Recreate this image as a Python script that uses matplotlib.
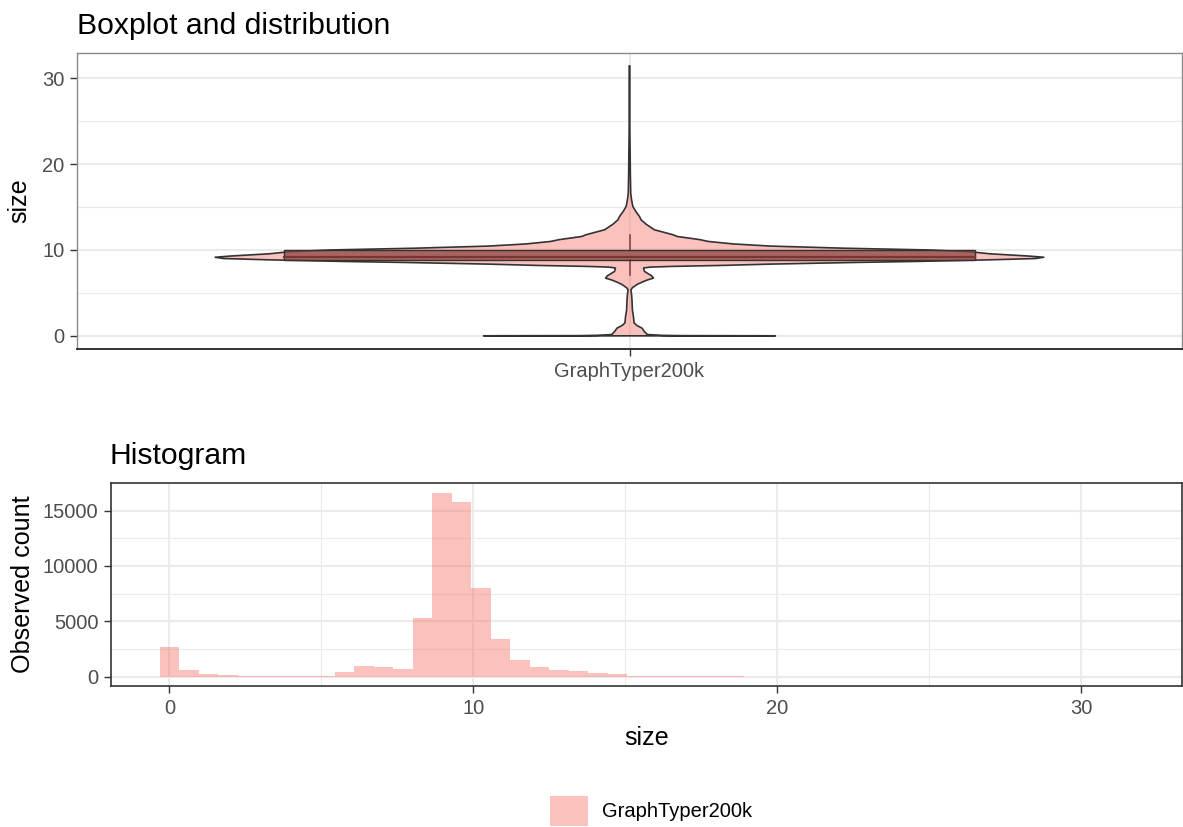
import numpy as np
import matplotlib
matplotlib.use("Agg")
import matplotlib.pyplot as plt
from matplotlib.patches import Patch, Rectangle

plt.rcParams['font.family'] = ['Liberation Sans', 'DejaVu Sans']

# ---------------- data ----------------
category = "GraphTyper200k"

# violin profile: size values and relative density (max = 1)
violin_y = [31.4, 28.0, 25.0, 21.5, 19.0, 17.8, 16.6, 15.85, 15.07, 14.5, 13.9, 13.5,
            13.0, 12.35, 11.77, 11.57, 11.2, 10.99, 10.7, 10.45, 10.2, 10.0, 9.8,
            9.55, 9.3, 9.15, 9.0, 8.85, 8.66, 8.54, 8.35, 8.2, 8.08, 8.0, 7.9, 7.5,
            7.0, 6.72, 6.5, 6.33, 6.0, 5.6, 5.36, 4.8, 4.2, 3.0, 2.25, 1.5, 1.2,
            0.9, 0.5, 0.15, 0.05, 0.02, 0.01, 0.0]
violin_dens = [0.0, 0.0, 0.0005, 0.0015, 0.002, 0.0025, 0.003, 0.005, 0.008, 0.015,
               0.024, 0.028, 0.04, 0.06, 0.105, 0.115, 0.17, 0.19, 0.25, 0.34, 0.52,
               0.72, 0.82, 0.87, 0.96, 1.0, 0.98, 0.87, 0.69, 0.54, 0.34, 0.225, 0.1,
               0.05, 0.034, 0.036, 0.053, 0.058, 0.043, 0.034, 0.019, 0.007, 0.0035,
               0.005, 0.006, 0.007, 0.0095, 0.011, 0.018, 0.030, 0.036, 0.043, 0.08,
               0.12, 0.28, 0.352]

# boxplot statistics
box_q1, box_median, box_q3 = 8.86, 9.2, 10.02
whisker_low, whisker_high = 7.1, 11.77

# histogram (50 bins over 0..31.4)
hist_max = 31.4
hist_counts = [2690, 635, 245, 150, 60, 40, 30, 30, 40, 420,
               960, 880, 725, 5310, 16630, 15810, 8030, 3410, 1540, 880,
               600, 510, 330, 215, 100, 60, 50, 45, 40, 35,
               10, 6, 5, 4, 3, 3, 2, 2, 2, 1,
               1, 1, 1, 1, 1, 1, 1, 1, 1, 1]

# ---------------- style ----------------
salmon = '#F8766D'
grid_c = '#EBEBEB'
dark = '#333333'
tick_c = '#4D4D4D'
TICK = 14.5
AXT = 18.1
TITLE = 21.7

W, H = 1183, 827
fig = plt.figure(figsize=(W / 100, H / 100), dpi=100)

def px_axes(l, t, r, b):
    return fig.add_axes([l / W, 1 - b / H, (r - l) / W, (b - t) / H])

# ---------------- top panel ----------------
ax1 = px_axes(77, 52.7, 1182, 349.3)
ax1.set_xlim(0.4, 1.6)
ax1.set_ylim(-1.57, 32.97)
ax1.set_yticks([0, 10, 20, 30])
ax1.set_yticks([5, 15, 25], minor=True)
ax1.set_xticks([1])
ax1.set_xticklabels([category])
for v in [0, 10, 20, 30]:
    ax1.axhline(v, color=grid_c, lw=1.5, zorder=0)
for v in [5, 15, 25]:
    ax1.axhline(v, color=grid_c, lw=0.8, zorder=0)
ax1.axvline(1, color=grid_c, lw=1.5, zorder=0)

vy = np.array(violin_y)
hw = np.array(violin_dens) * 0.45
ax1.fill_betweenx(vy, 1 - hw, 1 + hw, facecolor=salmon, alpha=0.45, lw=0, zorder=2)
ax1.plot(np.concatenate([1 - hw, (1 + hw)[::-1], [1 - hw[0]]]),
         np.concatenate([vy, vy[::-1], [vy[0]]]), color=dark, lw=1.2, zorder=3)

bw = 0.375
ax1.add_patch(Rectangle((1 - bw, box_q1), 2 * bw, box_q3 - box_q1,
                        facecolor='#8B4543', alpha=0.75, edgecolor='none', zorder=4))
ax1.add_patch(Rectangle((1 - bw, box_q1), 2 * bw, box_q3 - box_q1,
                        facecolor='none', edgecolor=dark, lw=1.0, zorder=5))
ax1.plot([1 - bw, 1 + bw], [box_median, box_median], color='#7A3533', lw=1.6, zorder=5)
ax1.plot([1, 1], [box_q3, whisker_high], color='#8B4543', lw=1.2, zorder=4)
ax1.plot([1, 1], [whisker_low, box_q1], color='#8B4543', lw=1.2, zorder=4)

for s in ['top', 'left', 'right']:
    ax1.spines[s].set_color('#8A8A8A')
    ax1.spines[s].set_linewidth(1.0)
ax1.spines['bottom'].set_color(dark)
ax1.spines['bottom'].set_linewidth(1.4)
ax1.tick_params(axis='both', which='major', length=5, width=1.0, color=dark,
                labelsize=TICK, labelcolor=tick_c, pad=4)
ax1.tick_params(axis='y', which='minor', length=0)
ax1.set_ylabel('size', fontsize=AXT, labelpad=8)

# ---------------- histogram ----------------
ax2 = px_axes(111, 483.3, 1182, 686)
binw = hist_max / (len(hist_counts) - 1)
centers = np.arange(len(hist_counts)) * binw
ax2.set_xlim(-0.5 * binw - 0.05 * (hist_max + binw), hist_max + 0.5 * binw + 0.05 * (hist_max + binw))
ymax = max(hist_counts)
ax2.set_ylim(-0.05 * ymax, 1.05 * ymax)
ax2.set_xticks([0, 10, 20, 30])
ax2.set_xticks([5, 15, 25], minor=True)
ax2.set_yticks([0, 5000, 10000, 15000])
ax2.set_yticks([2500, 7500, 12500], minor=True)
for v in [0, 5000, 10000, 15000]:
    ax2.axhline(v, color=grid_c, lw=1.5, zorder=0)
for v in [2500, 7500, 12500]:
    ax2.axhline(v, color=grid_c, lw=0.8, zorder=0)
for v in [0, 10, 20, 30]:
    ax2.axvline(v, color=grid_c, lw=1.5, zorder=0)
for v in [5, 15, 25]:
    ax2.axvline(v, color=grid_c, lw=0.8, zorder=0)
ax2.bar(centers, hist_counts, width=binw, color=salmon, alpha=0.45, lw=0, zorder=2)
for s in ax2.spines.values():
    s.set_color(dark)
    s.set_linewidth(1.2)
ax2.tick_params(axis='both', which='major', length=5, width=1.0, color=dark,
                labelsize=TICK, labelcolor=tick_c, pad=4)
ax2.tick_params(which='minor', length=0)
ax2.set_xlabel('size', fontsize=AXT, labelpad=6)
ax2.set_ylabel('Observed count', fontsize=AXT, labelpad=6)

# titles
fig.text(77 / W, 1 - 33.5 / H, 'Boxplot and distribution', fontsize=TITLE, ha='left', va='baseline')
fig.text(110 / W, 1 - 464 / H, 'Histogram', fontsize=TITLE, ha='left', va='baseline')

# legend
leg = fig.legend(handles=[Patch(facecolor=salmon, alpha=0.45, edgecolor='none', label=category)],
                 loc='center', bbox_to_anchor=(651 / W, 1 - 811 / H), frameon=False,
                 fontsize=TICK, handlelength=1.9, handleheight=1.9, handletextpad=0.7)

fig.savefig('out.png', dpi=100)
